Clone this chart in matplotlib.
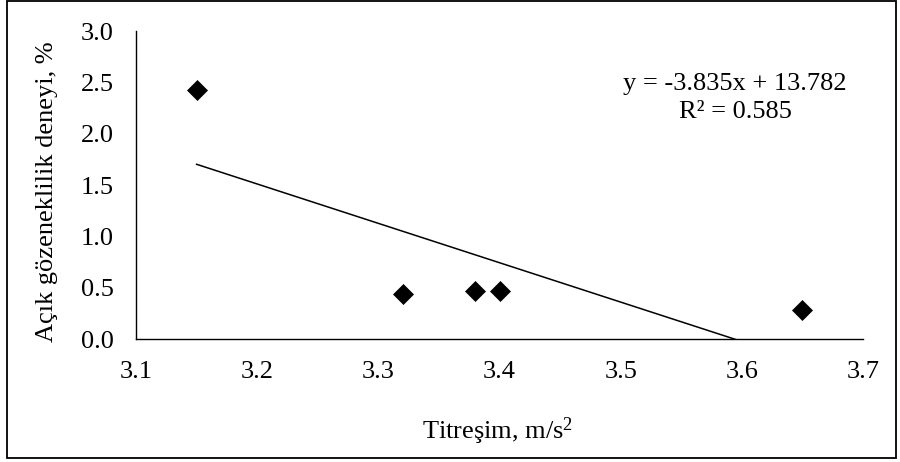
import matplotlib
matplotlib.use("Agg")
import numpy as np
import matplotlib.pyplot as plt
from matplotlib.patches import Rectangle

plt.rcParams["font.family"] = ["Liberation Serif", "DejaVu Serif"]
plt.rcParams["mathtext.fontset"] = "custom"
plt.rcParams["mathtext.rm"] = "Liberation Serif"
plt.rcParams["mathtext.it"] = "Liberation Serif:italic"

# ── Measurements ──────────────────────────────────────────────────────────
vibration = [3.15, 3.32, 3.38, 3.40, 3.65]   # m/s²
porosity  = [2.43, 0.44, 0.47, 0.47, 0.28]   # %

slope     = -3.835
intercept = 13.782
r2        = 0.585

x_ticks = [3.1, 3.2, 3.3, 3.4, 3.5, 3.6, 3.7]
y_ticks = [0.0, 0.5, 1.0, 1.5, 2.0, 2.5, 3.0]

FS = 19

# ── Plot ──────────────────────────────────────────────────────────────────
fig = plt.figure(figsize=(9, 4.62), dpi=100)
ax = fig.add_axes([136 / 900, 1 - 339 / 462, 727 / 900, 308 / 462])

ax.plot(vibration, porosity, linestyle="none", marker="D", markersize=10.5,
        color="black", markeredgewidth=0.5, zorder=3)

# linear trendline, clipped at the x axis like the spreadsheet does
x_fit = np.array([min(vibration), max(vibration)])
ax.plot(x_fit, slope * x_fit + intercept, color="black", linewidth=1.1, zorder=2)

ax.set_xlim(x_ticks[0], x_ticks[-1])
ax.set_ylim(y_ticks[0], y_ticks[-1])
ax.set_xticks(x_ticks)
ax.set_yticks(y_ticks)
ax.set_xticklabels([f"{v:.1f}" for v in x_ticks])
ax.set_yticklabels([f"{v:.1f}" for v in y_ticks])
ax.tick_params(length=0, labelsize=FS)
ax.tick_params(axis="x", pad=16)
ax.tick_params(axis="y", pad=16)

for side in ("top", "right"):
    ax.spines[side].set_visible(False)
for side in ("left", "bottom"):
    ax.spines[side].set_linewidth(1.0)

ax.text(735 / 900, 1 - 98 / 462,
        f"y = {slope:.3f}x + {intercept:.3f}\nR² = {r2:.3f}",
        transform=fig.transFigure, ha="center", va="center",
        fontsize=FS, linespacing=1.3)

fig.text(497 / 900, 1 - 431 / 462, r"Titreşim, m/s$^{2}$",
         ha="center", va="center", fontsize=FS)
fig.text(47 / 900, 1 - 192 / 462, "Açık gözeneklilik deneyi, %",
         ha="center", va="center", rotation=90, fontsize=FS)

# chart frame
fig.patches.append(Rectangle((7 / 900, 4 / 462), 889 / 900, 457 / 462,
                             transform=fig.transFigure, fill=False,
                             edgecolor="black", linewidth=1.3))

fig.savefig("out.png", dpi=100)
plt.close(fig)
